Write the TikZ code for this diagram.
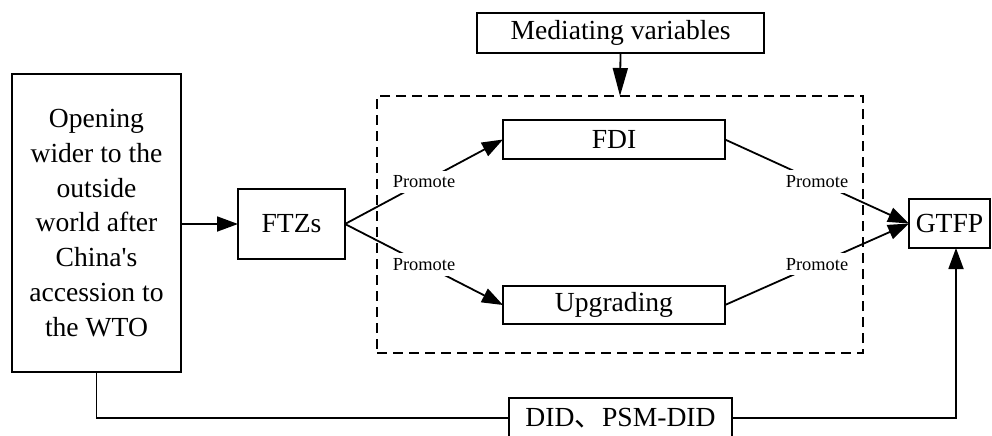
\documentclass[tikz,border=0pt]{standalone}
\usepackage{fontspec}
\setmainfont{Liberation Serif}
\newfontfamily\cjk{Noto Sans CJK SC}
\usetikzlibrary{arrows.meta,positioning}

\tikzset{
	box/.style={draw, line width=0.9pt, inner sep=0pt, outer sep=0pt, align=center,
		font=\fontsize{13.8}{17.4}\selectfont},
	promote/.style={fill=white, inner xsep=1pt, inner ysep=2.5pt, font=\fontsize{9.2}{11}\selectfont},
	link/.style={line width=0.9pt, -{Stealth[length=10.5pt,width=7.5pt,inset=0pt]}}
}

\begin{document}
\begin{tikzpicture}[x=0.5pt,y=-0.5pt]
	\useasboundingbox (0,0) rectangle (992,435);
	\node[draw, line width=0.9pt, dash pattern=on 5pt off 3pt, minimum width=243pt, minimum height=128.5pt,
		inner sep=0pt, outer sep=0pt] (medbox) at (620,224.5) {};
	\node[box, minimum width=84.5pt, minimum height=149pt] (wto) at (96.5,223)
		{Opening\\wider to the\\outside\\world after\\China\textquotesingle s\\accession to\\the WTO};
	\node[box, minimum width=53.5pt, minimum height=35pt] (ftz) at (291.5,224) {FTZs};
	\node[box, minimum width=143.5pt, minimum height=20pt] (mv) at (620.5,33) {Mediating variables};
	\node[box, minimum width=111pt, minimum height=19.5pt] (fdi) at (614,139.5) {FDI};
	\node[box, minimum width=111pt, minimum height=19pt] (upg) at (614,305) {Upgrading};
	\node[box, minimum width=40.5pt, minimum height=24.5pt] (gtfp) at (949.5,223.5) {GTFP};
	\node[box, fill=white, minimum width=111.5pt, minimum height=20pt] (did) at (620.5,418)
		{DID{\cjk 、}PSM-DID};

	\path[link]
	(wto.east|-ftz) edge (ftz.west)
	(mv.south) edge [-{Stealth[length=14pt,width=7.5pt,inset=0pt]}] (medbox.north)
	(ftz.east) edge node [promote] {Promote} (fdi.west)
	(ftz.east) edge node [promote] {Promote} (upg.west)
	(fdi.east) edge node [promote] {Promote} (gtfp.west)
	(upg.east) edge node [promote] {Promote} (gtfp.west);
	\draw[line width=0.9pt] (wto.south) |- (did.west);
	\draw[link] (did.east) -| ([xshift=3.25pt]gtfp.south);
\end{tikzpicture}
\end{document}
